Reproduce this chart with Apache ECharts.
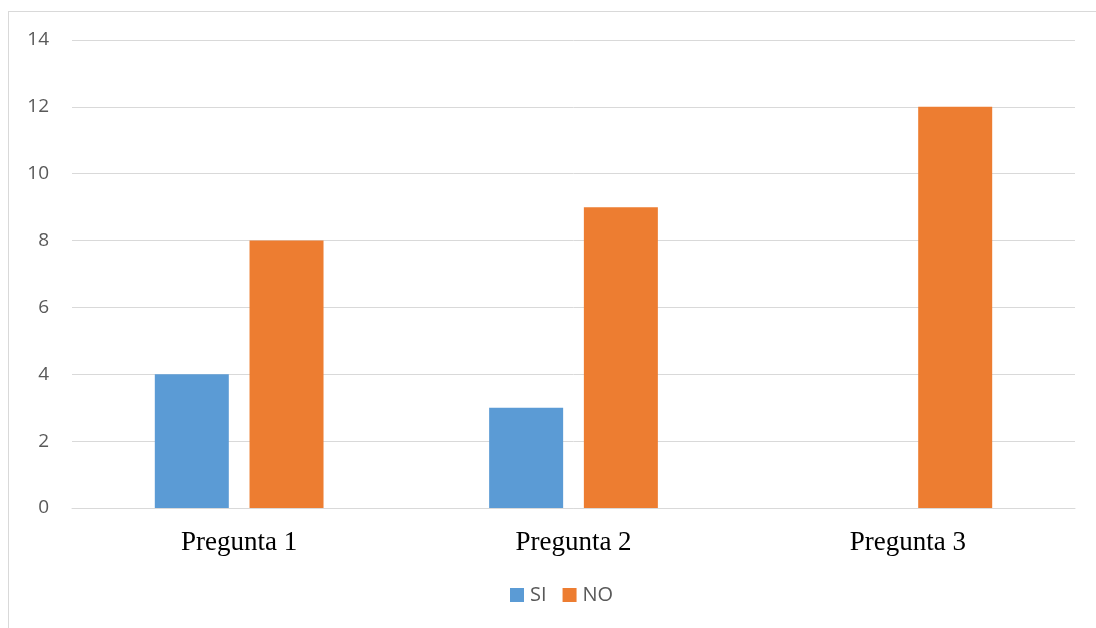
<!DOCTYPE html>
<html>
<head>
<meta charset="utf-8">
<script src="https://cdn.jsdelivr.net/npm/echarts@6/dist/echarts.min.js"></script>
<style>
html,body{margin:0;padding:0;background:#fff;}
#frame{position:absolute;left:8px;top:11px;width:1200px;height:700px;border:1px solid #d9d9d9;box-sizing:border-box;}
#chart{position:absolute;left:0;top:0;width:1096px;height:628px;}
</style>
</head>
<body>
<div id="frame"></div>
<div id="chart"></div>
<script>
const categories = ['Pregunta 1', 'Pregunta 2', 'Pregunta 3'];
const siValues = [4, 3, 0];
const noValues = [8, 9, 12];
const yTicks = { min: 0, max: 14, interval: 2 };

const chart = echarts.init(document.getElementById('chart'));
chart.setOption({
  animation: false,
  backgroundColor: 'transparent',
  grid: { left: 72, right: 21, top: 40, bottom: 120, containLabel: false },
  legend: {
    top: 585,
    left: 510,
    padding: 0,
    itemWidth: 14,
    itemHeight: 14,
    itemGap: 16,
    icon: 'rect',
    textStyle: { fontFamily: 'Open Sans, Liberation Sans, sans-serif', fontSize: 20, color: '#595959', padding: [0, 0, 0, 1] },
    data: ['SI', 'NO']
  },
  xAxis: {
    type: 'category',
    data: categories,
    axisLine: { lineStyle: { color: '#d9d9d9', width: 1 } },
    axisTick: { show: false },
    axisLabel: { fontFamily: 'Liberation Serif, Times New Roman, serif', fontSize: 27, color: '#000', margin: 21 }
  },
  yAxis: {
    type: 'value',
    min: yTicks.min,
    max: yTicks.max,
    interval: yTicks.interval,
    axisLine: { show: false },
    axisTick: { show: false },
    splitLine: { lineStyle: { color: '#d9d9d9', width: 1 } },
    axisLabel: { fontFamily: 'Open Sans, Liberation Sans, sans-serif', fontSize: 19, color: '#595959', margin: 23 }
  },
  series: [
    { name: 'SI', type: 'bar', data: siValues, barWidth: 74, barGap: '28%', itemStyle: { color: '#5B9BD5' } },
    { name: 'NO', type: 'bar', data: noValues, barWidth: 74, barGap: '28%', itemStyle: { color: '#ED7D31' } }
  ]
});
</script>
</body>
</html>
